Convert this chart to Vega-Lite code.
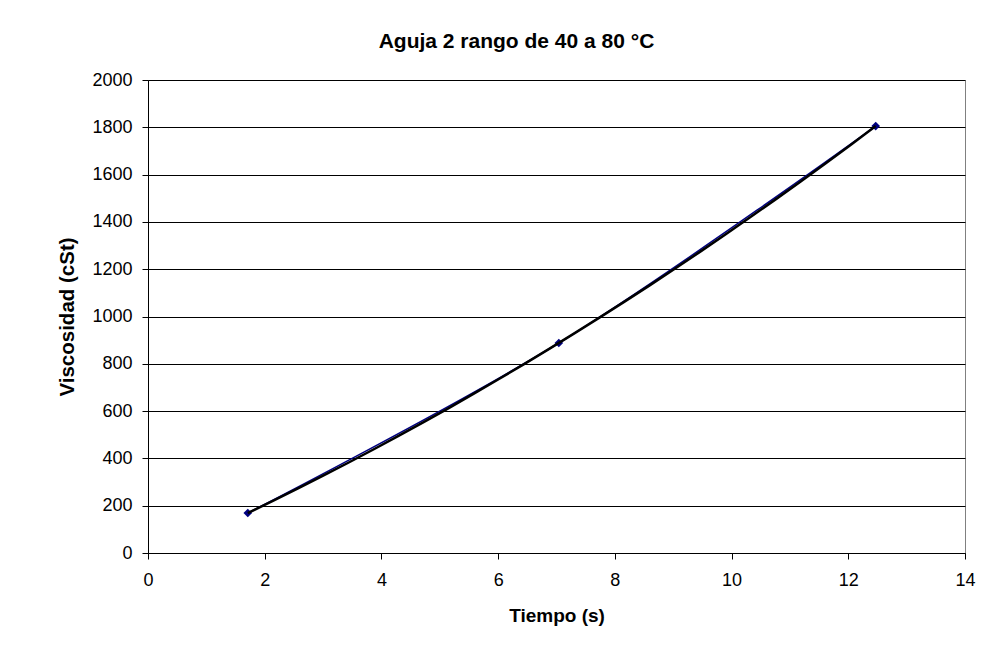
{
  "$schema": "https://vega.github.io/schema/vega-lite/v6.json",
  "autosize": "none",
  "width": 817,
  "height": 473,
  "padding": {"left": 148, "top": 80, "right": 43, "bottom": 97},
  "background": "white",
  "title": {
    "text": "Aguja 2 rango de 40 a 80 °C",
    "font": "Liberation Sans",
    "fontSize": 21,
    "fontWeight": "bold",
    "color": "black",
    "anchor": "middle",
    "frame": "bounds",
    "offset": 19
  },
  "data": {
    "values": [
      {"tiempo": 1.71, "viscosidad": 169},
      {"tiempo": 7.04, "viscosidad": 888},
      {"tiempo": 12.47, "viscosidad": 1805}
    ]
  },
  "config": {
    "view": {"stroke": "#808080", "strokeWidth": 1},
    "axis": {
      "labelFont": "Liberation Sans",
      "labelFontSize": 18,
      "labelColor": "black",
      "titleFont": "Liberation Sans",
      "titleFontSize": 19,
      "titleFontWeight": "bold",
      "titleColor": "black",
      "domainColor": "black",
      "tickColor": "black",
      "tickSize": 6,
      "gridColor": "black",
      "gridOpacity": 1,
      "gridWidth": 1,
      "format": "d"
    }
  },
  "encoding": {
    "x": {
      "field": "tiempo",
      "type": "quantitative",
      "scale": {"domain": [0, 14], "nice": false, "zero": false},
      "axis": {
        "title": "Tiempo (s)",
        "values": [0, 2, 4, 6, 8, 10, 12, 14],
        "grid": false,
        "labelPadding": 12,
        "titlePadding": 17,
        "labelFlush": false
      }
    },
    "y": {
      "field": "viscosidad",
      "type": "quantitative",
      "scale": {"domain": [0, 2000], "nice": false},
      "axis": {
        "title": "Viscosidad (cSt)",
        "titleFontSize": 20.5,
        "values": [0, 200, 400, 600, 800, 1000, 1200, 1400, 1600, 1800, 2000],
        "grid": true,
        "labelPadding": 10,
        "titlePadding": 14,
        "labelFlush": false
      }
    }
  },
  "layer": [
    {
      "mark": {"type": "line", "color": "#000080", "strokeWidth": 1.5, "interpolate": "catmull-rom"}
    },
    {
      "mark": {"type": "point", "shape": "diamond", "filled": true, "color": "#000080", "size": 75, "opacity": 1}
    },
    {
      "transform": [
        {"regression": "viscosidad", "on": "tiempo", "method": "poly", "order": 2}
      ],
      "mark": {"type": "line", "color": "black", "strokeWidth": 2.5}
    }
  ]
}
